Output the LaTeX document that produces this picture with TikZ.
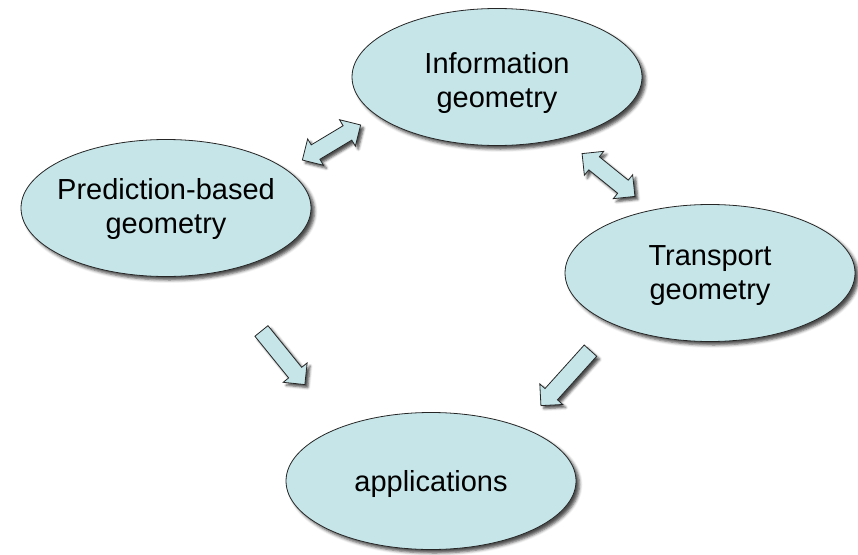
\documentclass[tikz,border=0pt]{standalone}
\usepackage{fontspec}
\setmainfont{Liberation Sans}
\usetikzlibrary{shapes.geometric, shapes.arrows, shadows.blur, calc}
\definecolor{paleblue}{HTML}{C5E5E8}
\tikzstyle{topic} = [ellipse, minimum width=290pt, minimum height=137pt, inner sep=0pt, draw=black!85, line width=0.8pt, fill=paleblue, blur shadow={shadow xshift=3.5pt, shadow yshift=-3.5pt, shadow blur radius=3pt, shadow opacity=70}]
\tikzstyle{caption} = [align=center, font=\fontsize{29}{34}\selectfont]
\tikzstyle{twoway} = [double arrow, double arrow head extend=7pt, minimum height=68pt, inner xsep=0pt, inner ysep=8pt, draw=black!85, line width=0.8pt, fill=paleblue, blur shadow={shadow xshift=3pt, shadow yshift=-3pt, shadow blur radius=2.5pt, shadow opacity=70}]
\tikzstyle{oneway} = [single arrow, single arrow head extend=7pt, minimum height=70pt, inner xsep=0pt, inner ysep=8pt, draw=black!85, line width=0.8pt, fill=paleblue, blur shadow={shadow xshift=3pt, shadow yshift=-3pt, shadow blur radius=2.5pt, shadow opacity=70}]

\begin{document}
\begin{tikzpicture}[x=1pt, y=-1pt]
    \useasboundingbox (0,0) rectangle (858,554);
    % Nodes
    \node [topic, label={[caption, yshift=-6pt]center:{Information\\geometry}}] (info) at (497,77) {};
    \node [topic, label={[caption, yshift=-1pt]center:{Prediction-based\\geometry}}] (pred) at (166,208) {};
    \node [topic, label={[caption, yshift=-3pt]center:{Transport\\geometry}}] (trans) at (710,273) {};
    \node [topic, label={[caption, yshift=-3pt]center:{applications}}] (apps) at (431,481) {};

    % Arrows
    \node [twoway, rotate=31] (infopred) at ($(info)!0.5!(pred)$) {};
    \node [twoway, rotate=-39] (infotrans) at ($(info)!0.5!(trans)+(5,0)$) {};
    \node [oneway, rotate=-51, minimum height=69pt] (predapps) at ($(pred)!0.5!(apps)+(-18,10)$) {};
    \node [oneway, rotate=228, minimum height=74pt] (transapps) at ($(trans)!0.5!(apps)+(-2,-2)$) {};
\end{tikzpicture}
\end{document}
